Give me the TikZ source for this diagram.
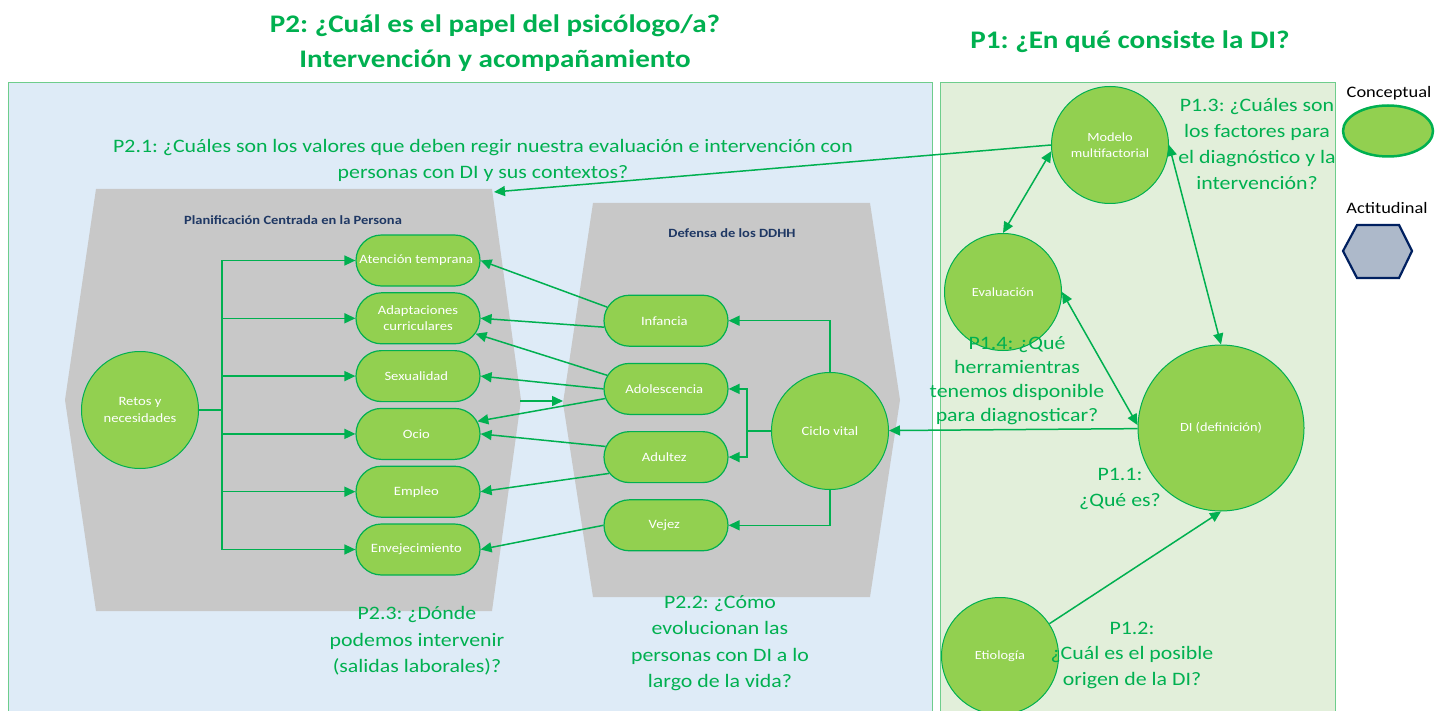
\documentclass[tikz,border=0pt]{standalone}
\usepackage{fontspec}
\setmainfont{Carlito}[FakeStretch=1.15]
\usetikzlibrary{arrows.meta,positioning,matrix,shapes.misc,shapes.geometric}
\definecolor{nodefill}{RGB}{146,208,80}
\definecolor{dgreen}{RGB}{0,176,80}
\definecolor{hexgray}{RGB}{200,200,200}
\definecolor{navy}{RGB}{31,56,100}
\definecolor{blueback}{RGB}{222,235,247}
\definecolor{greenback}{RGB}{226,239,218}
\definecolor{panelline}{RGB}{110,205,140}
\definecolor{legendhex}{RGB}{173,185,202}
\definecolor{legendline}{RGB}{0,32,96}
\frenchspacing

\begin{document}
\begin{tikzpicture}[x=1pt,y=-1pt,>={Triangle[length=11pt,width=10pt]},
  caps/.style={rounded rectangle,draw=dgreen,fill=nodefill,line width=1.2pt,
    text=white,minimum width=128pt,minimum height=51pt,inner sep=2pt,
    align=center,font=\fontsize{12.7}{16.5}\selectfont},
  circ/.style={circle,draw=dgreen,fill=nodefill,line width=1pt,text=white,
    minimum size=117pt,inner sep=1pt,align=center,
    font=\fontsize{12.5}{16.5}\selectfont},
  link/.style={->,color=dgreen,line width=1.5pt},
  quest/.style={text=dgreen,align=center,font=\fontsize{19}{26}\selectfont},
  ptitle/.style={text=dgreen,align=center,font=\fontsize{25.3}{35}\bfseries},
  hextitle/.style={text=navy,font=\fontsize{12.6}{14}\bfseries}]
\useasboundingbox (0,0) rectangle (1442,711);

% panels
\draw[fill=blueback,draw=panelline,line width=1pt] (8,83) rectangle (932,716);
\draw[fill=greenback,draw=panelline,line width=1pt] (940,83) rectangle (1335,716);
\fill[hexgray] (96,189) -- (492,189) -- (521,400) -- (492,611) -- (96,611) -- (65,400) -- cycle;
\fill[hexgray] (593,203) -- (870,203) -- (900,400) -- (870,597) -- (593,597) -- (563,403) -- cycle;
\node[hextitle] (pcp) at (293,220) {Planificación Centrada en la Persona};
\node[hextitle] (ddhh) at (732,233) {Defensa de los DDHH};

\node[ptitle] (tit2) at (495,43) {P2: ¿Cuál es el papel del psicólogo/a?\\Intervención y acompañamiento};
\node[ptitle] (tit1) at (1130,42) {P1: ¿En qué consiste la DI?};

% P2
\matrix (areas) [matrix of nodes,nodes={caps},row sep=5.6pt] at (418,405)
{
|(aten)| Atención temprana \\
|[text width=90pt](adap)| Adaptaciones curriculares \\
|(sexu)| Sexualidad \\
|(ocio)| Ocio \\
|(empl)| Empleo \\
|(enve)| Envejecimiento \\
};
\matrix (etapas) [matrix of nodes,nodes={caps},row sep=16pt] at (666,423)
{
|(inf)| Infancia \\
|(ado)| Adolescencia \\
|(adu)| Adultez \\
|(vej)| Vejez \\
};
\node[circ,font=\fontsize{12.7}{17}\selectfont] (retos) at (140,410) {Retos y\\necesidades};
\node[circ,font=\fontsize{12.7}{17}\selectfont] (cv) at (830,431) {Ciclo vital};

% P1
\node[circ] (mod) at (1110,145) {Modelo\\multifactorial};
\node[circ] (eva) at (1003,292) {Evaluación};
\node[circ,minimum size=166pt] (di) at (1221,428) {DI (definición)};
\node[circ] (eti) at (1000,656) {Etiología};

\node[quest] (q21) at (483,160) {P2.1: ¿Cuáles son los valores que deben regir nuestra evaluación e intervención con\\personas con DI y sus contextos?};
\node[quest,font=\fontsize{19}{26.5}\selectfont] (q23) at (417,641) {P2.3: ¿Dónde\\podemos intervenir\\(salidas laborales)?};
\node[quest,font=\fontsize{19}{26.5}\selectfont] (q22) at (720,643) {P2.2: ¿Cómo\\evolucionan las\\personas con DI a lo\\largo de la vida?};
\node[quest] (q13) at (1257,144) {P1.3: ¿Cuáles son\\los factores para\\el diagnóstico y la\\intervención?};
\node[quest,font=\fontsize{19}{24}\selectfont] (q14) at (1017,381) {P1.4: ¿Qué\\herramientras\\tenemos disponible\\para diagnosticar?};
\node[quest] (q11) at (1120,489) {P1.1:\\¿Qué es?};
\node[quest,font=\fontsize{19}{25.5}\selectfont] (q12) at (1132,655) {P1.2:\\¿Cuál es el posible\\origen de la DI?};

% legend
\node[font=\fontsize{16}{20}\selectfont] (lcon) at (1389,93) {Conceptual};
\node[ellipse,draw=dgreen,fill=nodefill,line width=2.5pt,minimum width=90pt,minimum height=51pt] (lell) at (1388,131) {};
\node[font=\fontsize{16}{20}\selectfont] (lact) at (1387,208) {Actitudinal};
\draw[fill=legendhex,draw=legendline,line width=2.2pt] (1343,251) -- (1357,225) -- (1399,225) -- (1412,251) -- (1399,278) -- (1357,278) -- cycle;

% connectors
\draw[link,-] (retos.east) -- ++(23,0) coordinate (bus);
\foreach \n in {aten,adap,sexu,ocio,empl,enve}
  \draw[link] (bus) |- (\n.west);
\draw[link] (cv.north) |- (inf.east);
\draw[link] (cv.south) |- (vej.east);
\draw[link,-] (cv.west) -- ++(-24,0) coordinate (cvj);
\draw[link] (cvj) |- (ado.east);
\draw[link] (cvj) |- (adu.east);
\draw[link] (inf.167) -- (aten.east);
\draw[link] (inf.186) -- (adap.east);
\draw[link] (ado.167) -- (adap.-15);
\draw[link] (ado.west) -- (sexu.east);
\draw[link] (ado.189) -- (ocio.12);
\draw[link] (adu.170) -- (ocio.east);
\draw[link] (adu.196) -- (empl.east);
\draw[link] (vej.west) -- (enve.east);
\coordinate (gapl) at (520,401);
\coordinate (gapr) at (563,401);
\draw[link] (gapl) -- (gapr);
\coordinate (p21) at (494,192);
\draw[link] (mod.west) -- (p21);
\draw[link,<->] (eva.north) -- (mod.186);
\draw[link,<->] (mod.east) -- (di.north);
\draw[link,<->] (eva.east) -- (di.178);
\draw[link] (di) -- (cv);
\draw[link] (eti) -- (di.south);
\end{tikzpicture}
\end{document}
